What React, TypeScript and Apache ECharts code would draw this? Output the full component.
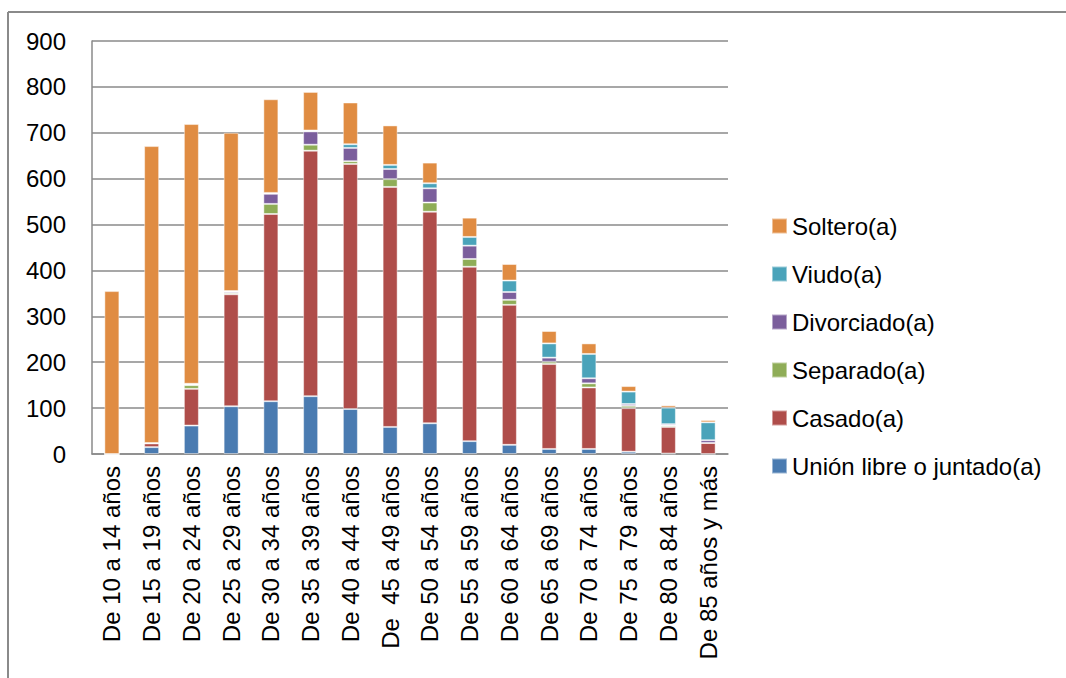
import React, { useEffect, useRef } from "react";
import * as echarts from "echarts";

const categories = [
  "De 10 a 14 años", "De 15 a 19 años", "De 20 a 24 años", "De 25 a 29 años",
  "De 30 a 34 años", "De 35 a 39 años", "De 40 a 44 años", "De  45 a 49 años",
  "De 50 a 54 años", "De 55 a 59 años", "De 60 a 64 años", "De 65 a 69 años",
  "De 70 a 74 años", "De 75 a 79 años", "De 80 a 84 años", "De 85 años y más",
];
const union = [0, 15, 62, 104, 115, 126, 98, 59, 67, 28, 20, 11, 11, 5, 1, 0];
const casado = [0, 8, 80, 244, 408, 535, 534, 523, 461, 380, 305, 185, 134, 95, 58, 24];
const separado = [0, 1, 8, 3, 22, 13, 6, 17, 20, 17, 11, 5, 9, 5, 3, 0];
const divorciado = [0, 0, 2, 3, 22, 29, 29, 22, 31, 29, 17, 9, 11, 4, 3, 6];
const viudo = [0, 0, 1, 1, 2, 2, 8, 9, 11, 19, 25, 31, 53, 27, 36, 39];
const soltero = [355, 647, 566, 345, 204, 84, 91, 86, 45, 42, 36, 27, 23, 12, 5, 5];
const yTicks = { min: 0, max: 900, interval: 100 };

const FONT = "'Liberation Sans', Arial, sans-serif";

export default function App() {
  const ref = useRef<HTMLDivElement>(null);
  useEffect(() => {
    document.body.style.margin = "0";
    const chart = echarts.init(ref.current!, null, { renderer: "svg" });
    const mk = (name: string, data: number[], color: string) => ({
      name,
      type: "bar",
      stack: "total",
      data,
      barWidth: 15,
      itemStyle: { color, borderColor: "rgba(255,255,255,0.45)", borderWidth: 1 },
    });
    chart.setOption({
      animation: false,
      textStyle: { fontFamily: FONT },
      grid: { left: 92, right: 338, top: 41, bottom: 224 },
      legend: {
        orient: "vertical",
        left: 771,
        top: 214,
        padding: 0,
        itemWidth: 15,
        itemHeight: 15,
        itemGap: 24,
        icon: "rect",
        textStyle: { fontSize: 24, color: "#000", fontFamily: FONT, lineHeight: 24, padding: [0, 0, 0, 0] },
        data: ["Soltero(a)", "Viudo(a)", "Divorciado(a)", "Separado(a)", "Casado(a)", "Unión libre o juntado(a)"],
      },
      xAxis: {
        type: "category",
        data: categories,
        axisLine: { lineStyle: { color: "#8a8a8a", width: 1.5 } },
        axisTick: { show: false },
        axisLabel: { rotate: 90, fontSize: 24, color: "#000", margin: 12, fontFamily: FONT, interval: 0 },
      },
      yAxis: {
        type: "value",
        min: yTicks.min,
        max: yTicks.max,
        interval: yTicks.interval,
        axisLine: { show: true, lineStyle: { color: "#8a8a8a", width: 1.5 } },
        axisTick: { show: false },
        axisLabel: { fontSize: 24, color: "#000", margin: 26, fontFamily: FONT },
        splitLine: { lineStyle: { color: "#8a8a8a", width: 1.5 } },
      },
      graphic: [
        { type: "line", shape: { x1: 8, y1: 12, x2: 1066, y2: 12 }, style: { stroke: "#8a8a8a", lineWidth: 2 } },
        { type: "line", shape: { x1: 8, y1: 12, x2: 8, y2: 678 }, style: { stroke: "#8a8a8a", lineWidth: 2 } },
      ],
      series: [
        mk("Unión libre o juntado(a)", union, "#4A7BB1"),
        mk("Casado(a)", casado, "#AF4D4A"),
        mk("Separado(a)", separado, "#8FAD57"),
        mk("Divorciado(a)", divorciado, "#7B5E9C"),
        mk("Viudo(a)", viudo, "#4AA3BA"),
        mk("Soltero(a)", soltero, "#E08C42"),
      ],
    });
    return () => chart.dispose();
  }, []);
  return <div ref={ref} style={{ width: 1066, height: 678 }} />;
}
